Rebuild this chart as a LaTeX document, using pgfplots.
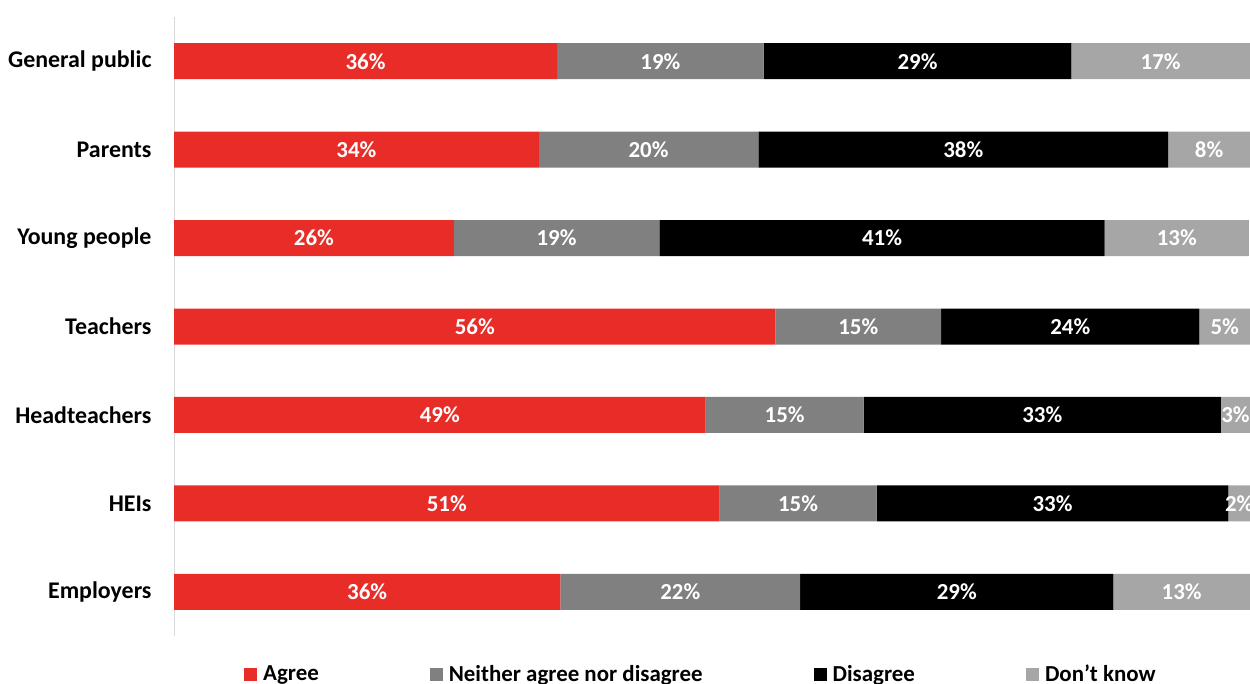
\documentclass[border=0pt]{standalone}
\usepackage{pgfplots}
\pgfplotsset{compat=1.18}
\usepackage{pgfplotstable}
\usepackage{fontspec}
\setmainfont{Carlito}
\definecolor{cagree}{RGB}{232,44,40}
\definecolor{cneither}{RGB}{128,128,128}
\definecolor{cdis}{RGB}{0,0,0}
\definecolor{cdk}{RGB}{166,166,166}
\definecolor{caxis}{RGB}{217,217,217}
\pgfplotstableread{
idx agree neither disagree dk
0 35.6 19.2 28.6 16.6
1 33.9 20.4 38.1 7.6
2 26.0 19.1 41.4 13.4
3 55.9 15.4 24.0 4.7
4 49.4 14.7 33.2 2.7
5 50.7 14.6 32.7 2.0
6 35.9 22.3 29.1 12.7
}\data
\begin{document}
\begin{tikzpicture}
\begin{axis}[
  at={(174bp,48bp)}, anchor=south west,
  scale only axis, width=1076bp, height=619bp,
  xbar stacked, bar width=36bp,
  xmin=0, xmax=100, ymin=-0.5, ymax=6.5, y dir=reverse,
  ytick={0,...,6},
  yticklabels={General public,Parents,Young people,Teachers,Headteachers,HEIs,Employers},
  axis x line=none, axis y line*=left,
  y axis line style={draw=caxis, line width=1bp},
  major tick length=0pt,
  yticklabel style={font=\bfseries\fontsize{24}{28}\selectfont, text=black, xshift=-19bp},
  point meta=explicit,
  nodes near coords={\pgfmathprintnumber[fixed,precision=0,assume math mode=true]{\pgfplotspointmeta}\%},
  every node near coord/.append style={font=\bfseries\fontsize{23}{27}\selectfont, text=white},
  legend columns=4,
  legend style={at={(axis description cs:0.065,-0.061)}, anchor=west, draw=none, fill=none,
    inner sep=0pt, font=\bfseries\fontsize{23}{27}\selectfont, nodes={inner sep=0pt},
    /tikz/every odd column/.append style={column sep=6bp},
    /tikz/every even column/.append style={column sep=111bp}},
  legend cell align=left,
  legend image code/.code={\fill[#1] (0bp,-7bp) rectangle (13bp,6bp);},
]
\addplot[fill=cagree, draw=none] table[x=agree,y=idx,meta=agree]{\data};
\addplot[fill=cneither, draw=none] table[x=neither,y=idx,meta=neither]{\data};
\addplot[fill=cdis, draw=none] table[x=disagree,y=idx,meta=disagree]{\data};
\addplot[fill=cdk, draw=none] table[x=dk,y=idx,meta=dk]{\data};
\legend{Agree, Neither agree nor disagree, Disagree, Don't know}
\end{axis}
\pgfresetboundingbox
\path[use as bounding box] (0,0) rectangle (1250bp,684bp);
\end{tikzpicture}
\end{document}
